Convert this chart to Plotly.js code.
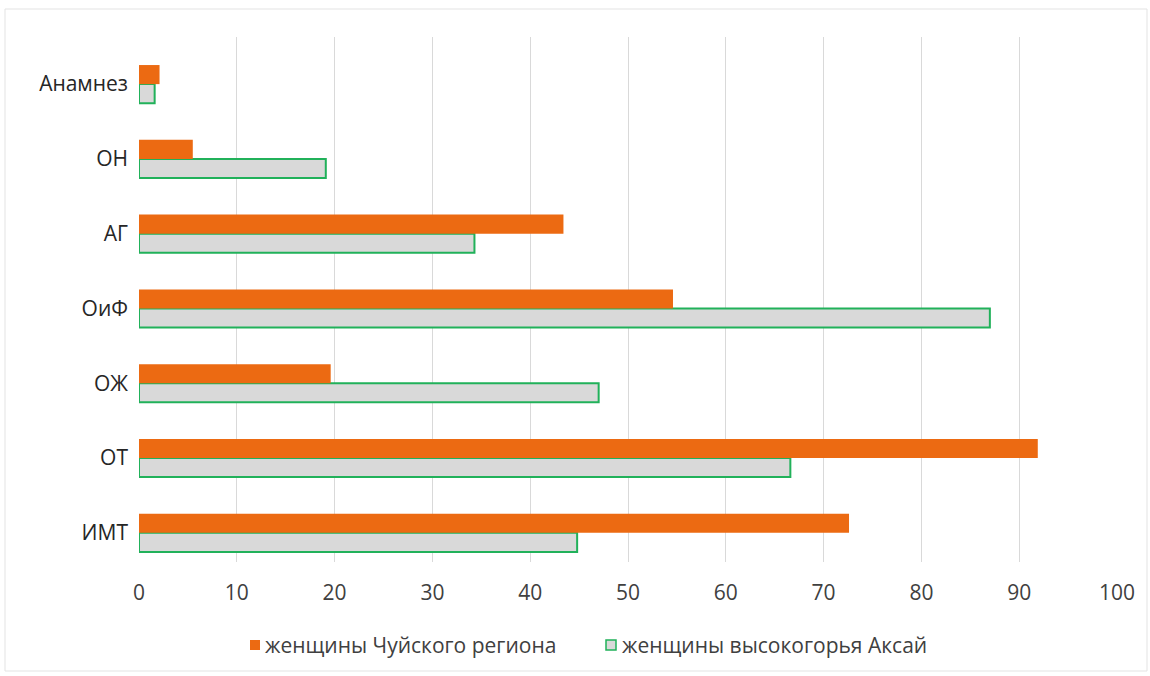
<!DOCTYPE html>
<html>
<head>
<meta charset="utf-8">
<script src="https://cdn.plot.ly/plotly-3.0.1.min.js"></script>
<style>
  html, body { margin: 0; padding: 0; background: #ffffff; }
  #chart { width: 1150px; height: 676px; }
</style>
</head>
<body>
<div id="chart"></div>
<script>
// Risk factors, listed bottom to top on the axis
const categories = ['ИМТ', 'ОТ', 'ОЖ', 'ОиФ', 'АГ', 'ОН', 'Анамнез'];

// Share of women with each factor, %
const chuiRegion = [72.6, 91.9, 19.6, 54.6, 43.4, 5.5, 2.1];
const aksaiHighland = [44.8, 66.6, 47.0, 87.0, 34.3, 19.1, 1.6];

const seriesNames = ['женщины Чуйского региона', 'женщины высокогорья Аксай'];
const xTicks = [0, 10, 20, 30, 40, 50, 60, 70, 80, 90, 100];

const font = 'Open Sans, Noto Sans, sans-serif';
const orange = '#ec6a12';
const grey = '#d9d9d9';
const green = '#21b15a';

const traces = [
  {
    type: 'bar',
    orientation: 'h',
    name: seriesNames[1],
    y: categories,
    x: aksaiHighland,
    marker: { color: grey, line: { color: green, width: 2 } },
    hoverinfo: 'x+y+name'
  },
  {
    type: 'bar',
    orientation: 'h',
    name: seriesNames[0],
    y: categories,
    x: chuiRegion,
    marker: { color: orange, line: { width: 0 } },
    hoverinfo: 'x+y+name'
  }
];

// Plot area geometry (pixels), used to place the legend below the axis
const W = 1150, H = 676;
const M = { l: 139, r: 33, t: 37, b: 114 };
const pw = W - M.l - M.r, ph = H - M.t - M.b;
const px = v => (v - M.l) / pw;
const py = v => (H - M.b - v) / ph;

const legendY = 645;
const legendItems = [
  { name: seriesNames[0], box: 250, text: 263, fill: orange, line: orange, lw: 0 },
  { name: seriesNames[1], box: 606, text: 620, fill: grey, line: green, lw: 1.5 }
];

const shapes = [
  {
    type: 'rect',
    xref: 'paper', yref: 'paper',
    x0: px(5), x1: px(1147),
    y0: py(671), y1: py(9),
    line: { color: '#e3e3e3', width: 1 },
    fillcolor: 'rgba(0,0,0,0)',
    layer: 'below'
  }
];
const annotations = [];
legendItems.forEach(it => {
  shapes.push({
    type: 'rect',
    xref: 'paper', yref: 'paper',
    x0: px(it.box), x1: px(it.box + 10),
    y0: py(legendY + 5), y1: py(legendY - 5),
    fillcolor: it.fill,
    line: { color: it.line, width: it.lw }
  });
  annotations.push({
    xref: 'paper', yref: 'paper',
    x: px(it.text), y: py(legendY),
    xanchor: 'left', yanchor: 'middle',
    text: it.name,
    showarrow: false,
    font: { family: font, size: 21, color: '#404040' }
  });
});

const layout = {
  width: W,
  height: H,
  paper_bgcolor: '#ffffff',
  plot_bgcolor: '#ffffff',
  margin: M,
  barmode: 'group',
  bargap: 0.49,
  bargroupgap: 0,
  showlegend: false,
  xaxis: {
    range: [0, 100],
    tickvals: xTicks,
    ticktext: xTicks.map(String),
    showgrid: true,
    gridcolor: '#d9d9d9',
    gridwidth: 1,
    zeroline: false,
    showline: false,
    ticks: '',
    ticklabelstandoff: 16,
    tickfont: { family: font, size: 21, color: '#404040' },
    fixedrange: true
  },
  yaxis: {
    type: 'category',
    categoryorder: 'array',
    categoryarray: categories,
    range: [-0.39, 6.63],
    showgrid: false,
    zeroline: false,
    showline: false,
    ticks: '',
    ticklabelstandoff: 10,
    tickfont: { family: font, size: 21, color: '#262626' },
    fixedrange: true
  },
  shapes: shapes,
  annotations: annotations
};

Plotly.newPlot('chart', traces, layout, { displayModeBar: false, staticPlot: true });
</script>
</body>
</html>
